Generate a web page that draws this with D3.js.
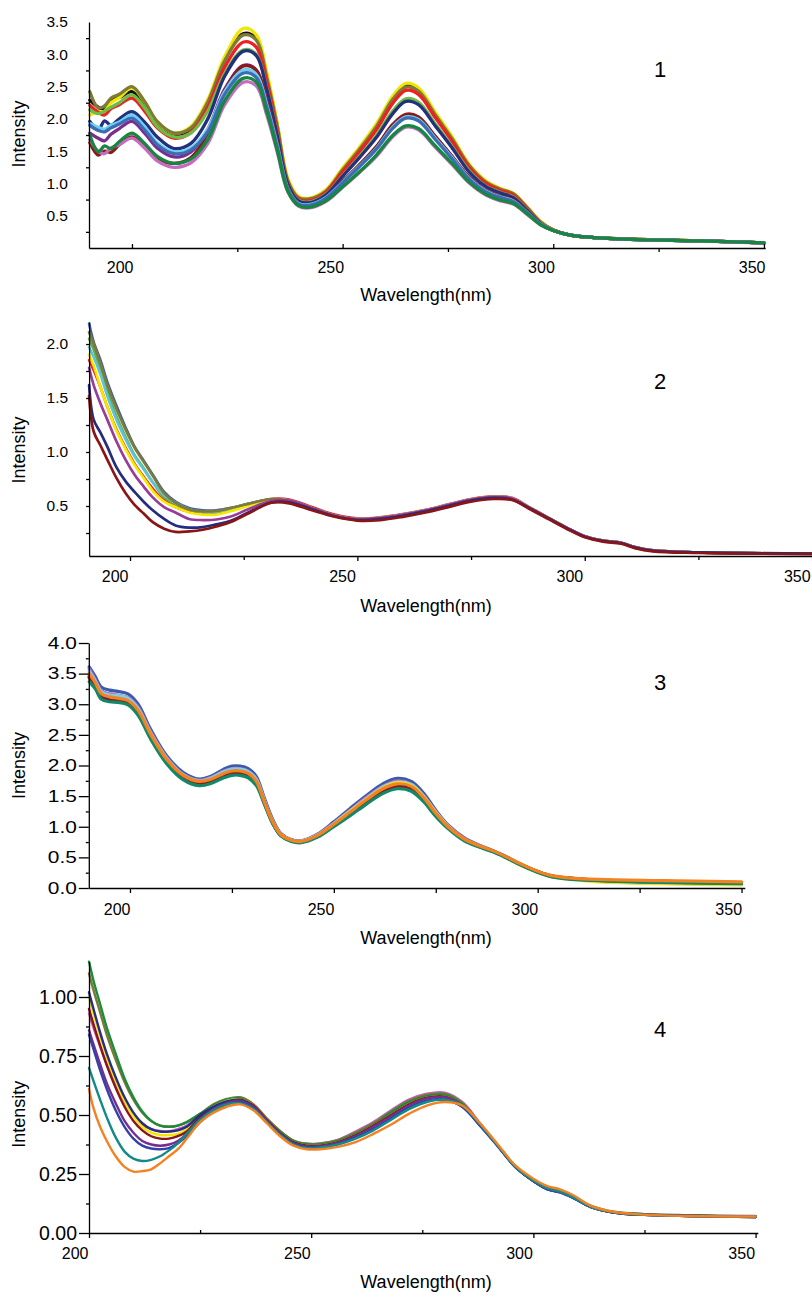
<!DOCTYPE html>
<html>
<head>
<meta charset="utf-8">
<script src="https://cdn.jsdelivr.net/npm/d3@7"></script>
<style>
  body { margin: 0; background: #fff; }
  svg text { font-family: "Liberation Sans", Arial, sans-serif; fill: #000; }
</style>
</head>
<body>
<svg id="chart" width="812" height="1295"></svg>
<script>
// ---------- data ----------
var xMajor = [200, 250, 300, 350];
var xMinor = [225, 275, 325];

// panel 1
var wl1 = [190, 192, 193.5, 195, 197, 200, 203, 206, 210, 214, 218, 222, 226.5, 229.5, 232, 234.5, 237, 239.5, 242, 246, 250, 254, 258, 262, 265, 268, 272, 276, 280, 284, 287.5, 290.5, 294, 297, 300, 304, 310, 320, 335, 350];
var p1Pink = [1.68, 1.50, 1.46, 1.55, 1.60, 1.70, 1.55, 1.35, 1.25, 1.32, 1.62, 2.22, 2.57, 2.51, 2.06, 1.48, 0.87, 0.65, 0.62, 0.72, 0.94, 1.17, 1.42, 1.73, 1.87, 1.83, 1.56, 1.29, 1.01, 0.82, 0.73, 0.68, 0.51, 0.36, 0.27, 0.20, 0.16, 0.13, 0.11, 0.075];
var p1DkGreen = [1.75, 1.49, 1.58, 1.54, 1.65, 1.78, 1.62, 1.42, 1.31, 1.38, 1.68, 2.28, 2.63, 2.57, 2.11, 1.51, 0.88, 0.66, 0.63, 0.73, 0.95, 1.18, 1.44, 1.75, 1.89, 1.85, 1.58, 1.31, 1.02, 0.83, 0.74, 0.69, 0.52, 0.36, 0.27, 0.20, 0.16, 0.13, 0.11, 0.08];
var p1Blue = [1.90, 1.82, 1.80, 1.86, 1.92, 2.01, 1.83, 1.60, 1.46, 1.52, 1.80, 2.38, 2.71, 2.64, 2.18, 1.56, 0.91, 0.68, 0.66, 0.77, 1.01, 1.26, 1.53, 1.86, 2.01, 1.97, 1.68, 1.38, 1.07, 0.87, 0.78, 0.72, 0.54, 0.37, 0.27, 0.20, 0.16, 0.13, 0.11, 0.08];
var p1Cyan = [1.93, 1.87, 1.84, 1.90, 1.95, 2.06, 1.88, 1.63, 1.49, 1.55, 1.84, 2.42, 2.76, 2.69, 2.22, 1.59, 0.92, 0.69, 0.67, 0.78, 1.02, 1.27, 1.54, 1.88, 2.03, 1.99, 1.70, 1.40, 1.08, 0.88, 0.79, 0.73, 0.54, 0.37, 0.27, 0.20, 0.16, 0.13, 0.11, 0.08];
var p1DarkRed = [1.63, 1.44, 1.50, 1.48, 1.60, 1.72, 1.57, 1.38, 1.31, 1.40, 1.78, 2.43, 2.82, 2.75, 2.26, 1.61, 0.93, 0.69, 0.66, 0.77, 1.03, 1.29, 1.57, 1.92, 2.07, 2.03, 1.73, 1.42, 1.10, 0.89, 0.80, 0.74, 0.55, 0.37, 0.27, 0.20, 0.16, 0.13, 0.11, 0.08];
var p1Purple = [1.78, 1.70, 1.66, 1.76, 1.85, 1.96, 1.78, 1.55, 1.41, 1.49, 1.84, 2.46, 2.83, 2.76, 2.27, 1.62, 0.93, 0.69, 0.66, 0.77, 1.03, 1.28, 1.56, 1.90, 2.05, 2.01, 1.72, 1.41, 1.09, 0.88, 0.79, 0.73, 0.54, 0.37, 0.27, 0.20, 0.16, 0.13, 0.11, 0.08];
var p1Navy = [1.96, 1.83, 1.97, 1.90, 2.00, 2.11, 1.95, 1.72, 1.54, 1.62, 2.00, 2.66, 3.05, 2.98, 2.45, 1.74, 0.99, 0.73, 0.70, 0.82, 1.11, 1.40, 1.71, 2.09, 2.27, 2.22, 1.89, 1.55, 1.18, 0.95, 0.85, 0.78, 0.57, 0.38, 0.27, 0.20, 0.16, 0.13, 0.11, 0.08];
var p1Green = [2.14, 2.08, 2.12, 2.18, 2.25, 2.37, 2.17, 1.88, 1.72, 1.78, 2.12, 2.70, 3.07, 3.00, 2.47, 1.76, 1.00, 0.74, 0.71, 0.83, 1.12, 1.42, 1.74, 2.13, 2.31, 2.26, 1.92, 1.57, 1.20, 0.96, 0.86, 0.79, 0.58, 0.39, 0.28, 0.20, 0.16, 0.135, 0.11, 0.08];
var p1Red = [2.21, 2.10, 2.06, 2.16, 2.22, 2.32, 2.12, 1.86, 1.70, 1.79, 2.18, 2.80, 3.19, 3.11, 2.56, 1.82, 1.02, 0.76, 0.73, 0.86, 1.18, 1.49, 1.83, 2.25, 2.44, 2.38, 2.02, 1.65, 1.25, 1.00, 0.89, 0.82, 0.60, 0.40, 0.28, 0.20, 0.16, 0.135, 0.11, 0.08];
var p1Olive = [2.42, 2.17, 2.20, 2.32, 2.38, 2.50, 2.27, 1.96, 1.78, 1.86, 2.26, 2.90, 3.30, 3.22, 2.64, 1.88, 1.04, 0.78, 0.76, 0.88, 1.21, 1.53, 1.88, 2.31, 2.49, 2.43, 2.06, 1.69, 1.28, 1.02, 0.91, 0.84, 0.61, 0.40, 0.28, 0.20, 0.16, 0.135, 0.11, 0.08];
var p1Black = [2.29, 2.18, 2.14, 2.28, 2.33, 2.42, 2.22, 1.93, 1.76, 1.85, 2.26, 2.91, 3.32, 3.24, 2.66, 1.89, 1.04, 0.77, 0.75, 0.88, 1.21, 1.53, 1.88, 2.32, 2.51, 2.45, 2.07, 1.70, 1.28, 1.02, 0.90, 0.83, 0.61, 0.40, 0.28, 0.20, 0.16, 0.135, 0.11, 0.08];
var p1Yellow = [2.06, 2.11, 2.12, 2.25, 2.33, 2.48, 2.26, 1.95, 1.78, 1.88, 2.30, 2.96, 3.40, 3.30, 2.72, 1.92, 1.08, 0.80, 0.77, 0.90, 1.24, 1.56, 1.92, 2.36, 2.55, 2.48, 2.10, 1.72, 1.30, 1.04, 0.92, 0.85, 0.62, 0.41, 0.28, 0.20, 0.16, 0.135, 0.11, 0.08];
var yLabels1 = [0.5, 1.0, 1.5, 2.0, 2.5, 3.0, 3.5];
var yTicks1 = [0.25, 0.75, 1.25, 1.75, 2.25, 2.75, 3.25];

// panel 2
var wl2 = [191, 192, 193.5, 195, 197, 199, 201, 203, 205, 207.5, 210, 213, 216, 219, 222, 226, 231, 235, 240, 245, 250, 255, 260, 265, 270, 275, 280, 284, 288, 292, 296, 300, 304, 308, 311, 315, 325, 350];
var p2Blue = [2.19, 2.02, 1.85, 1.65, 1.43, 1.23, 1.05, 0.92, 0.79, 0.63, 0.54, 0.48, 0.46, 0.46, 0.48, 0.52, 0.56, 0.55, 0.48, 0.41, 0.38, 0.39, 0.42, 0.46, 0.51, 0.56, 0.585, 0.57, 0.48, 0.39, 0.30, 0.22, 0.18, 0.16, 0.12, 0.09, 0.07, 0.06];
var p2Green = [2.05, 1.95, 1.76, 1.56, 1.33, 1.14, 0.97, 0.85, 0.72, 0.58, 0.50, 0.45, 0.44, 0.45, 0.47, 0.52, 0.56, 0.55, 0.48, 0.41, 0.38, 0.39, 0.42, 0.46, 0.51, 0.56, 0.585, 0.57, 0.48, 0.39, 0.30, 0.22, 0.18, 0.16, 0.12, 0.09, 0.07, 0.06];
var p2Red = [1.85, 1.76, 1.60, 1.42, 1.21, 1.04, 0.89, 0.77, 0.66, 0.55, 0.49, 0.445, 0.43, 0.435, 0.46, 0.515, 0.565, 0.56, 0.49, 0.42, 0.385, 0.395, 0.425, 0.465, 0.515, 0.565, 0.59, 0.575, 0.485, 0.39, 0.30, 0.22, 0.18, 0.16, 0.12, 0.09, 0.07, 0.06];
var p2Cyan = [1.97, 1.88, 1.72, 1.52, 1.30, 1.12, 0.96, 0.84, 0.72, 0.60, 0.53, 0.47, 0.445, 0.445, 0.47, 0.52, 0.56, 0.55, 0.48, 0.41, 0.38, 0.39, 0.42, 0.46, 0.51, 0.56, 0.585, 0.57, 0.48, 0.39, 0.30, 0.22, 0.18, 0.16, 0.12, 0.09, 0.07, 0.06];
var p2Yellow = [1.90, 1.80, 1.60, 1.42, 1.20, 1.03, 0.88, 0.76, 0.64, 0.54, 0.49, 0.44, 0.42, 0.42, 0.45, 0.50, 0.555, 0.55, 0.48, 0.41, 0.38, 0.39, 0.42, 0.46, 0.51, 0.56, 0.585, 0.57, 0.48, 0.39, 0.30, 0.22, 0.18, 0.16, 0.12, 0.09, 0.07, 0.06];
var p2Olive = [2.11, 2.00, 1.82, 1.62, 1.40, 1.21, 1.04, 0.91, 0.78, 0.62, 0.53, 0.47, 0.45, 0.455, 0.48, 0.52, 0.565, 0.55, 0.48, 0.41, 0.375, 0.385, 0.415, 0.455, 0.505, 0.555, 0.58, 0.565, 0.48, 0.39, 0.30, 0.22, 0.18, 0.16, 0.12, 0.09, 0.07, 0.06];
var p2Magenta = [1.78, 1.62, 1.45, 1.30, 1.10, 0.93, 0.79, 0.68, 0.58, 0.49, 0.44, 0.38, 0.37, 0.375, 0.40, 0.47, 0.545, 0.55, 0.48, 0.41, 0.38, 0.39, 0.42, 0.46, 0.51, 0.56, 0.585, 0.57, 0.48, 0.39, 0.30, 0.22, 0.18, 0.16, 0.12, 0.09, 0.07, 0.06];
var p2Navy = [1.62, 1.30, 1.18, 1.05, 0.86, 0.73, 0.63, 0.54, 0.46, 0.38, 0.32, 0.30, 0.305, 0.33, 0.36, 0.44, 0.53, 0.535, 0.47, 0.405, 0.37, 0.38, 0.41, 0.45, 0.50, 0.55, 0.575, 0.56, 0.475, 0.385, 0.295, 0.215, 0.175, 0.155, 0.115, 0.085, 0.07, 0.06];
var p2DarkRed = [1.52, 1.19, 1.06, 0.93, 0.76, 0.62, 0.51, 0.43, 0.35, 0.29, 0.26, 0.265, 0.28, 0.31, 0.35, 0.43, 0.53, 0.525, 0.46, 0.40, 0.365, 0.37, 0.40, 0.44, 0.49, 0.54, 0.565, 0.555, 0.47, 0.38, 0.29, 0.21, 0.17, 0.15, 0.11, 0.08, 0.065, 0.055];
var yTicks2 = [0.25, 0.5, 0.75, 1.0, 1.25, 1.5, 1.75, 2.0];

// panel 3
var wl3 = [190, 191.5, 193, 195, 197, 199.5, 202, 205, 209, 213, 217, 220, 223, 225, 227, 229, 231, 233, 235, 237, 239.5, 242, 246, 250, 254, 258, 262, 265.5, 269, 272, 275, 278, 282, 286, 289, 292, 295, 299, 303, 307, 315, 330, 350];
var p3Blue = [3.61, 3.45, 3.28, 3.23, 3.21, 3.17, 3.00, 2.60, 2.16, 1.89, 1.78, 1.83, 1.94, 1.99, 1.99, 1.95, 1.82, 1.46, 1.12, 0.89, 0.79, 0.77, 0.88, 1.08, 1.30, 1.51, 1.70, 1.79, 1.74, 1.55, 1.27, 1.03, 0.82, 0.69, 0.61, 0.52, 0.41, 0.29, 0.20, 0.16, 0.12, 0.10, 0.08];
var p3Pink = [3.58, 3.40, 3.22, 3.17, 3.15, 3.11, 2.95, 2.56, 2.13, 1.86, 1.76, 1.81, 1.91, 1.95, 1.95, 1.91, 1.78, 1.43, 1.10, 0.88, 0.785, 0.765, 0.87, 1.06, 1.27, 1.48, 1.66, 1.75, 1.70, 1.51, 1.25, 1.02, 0.81, 0.685, 0.61, 0.52, 0.415, 0.295, 0.205, 0.165, 0.13, 0.11, 0.09];
var p3Cyan = [3.54, 3.38, 3.20, 3.15, 3.14, 3.10, 2.93, 2.54, 2.12, 1.85, 1.75, 1.80, 1.90, 1.94, 1.94, 1.90, 1.77, 1.42, 1.09, 0.875, 0.78, 0.76, 0.865, 1.05, 1.26, 1.46, 1.65, 1.73, 1.69, 1.50, 1.24, 1.01, 0.80, 0.68, 0.605, 0.515, 0.41, 0.29, 0.20, 0.16, 0.12, 0.09, 0.07];
var p3Yellow = [3.47, 3.33, 3.16, 3.11, 3.09, 3.05, 2.89, 2.51, 2.09, 1.83, 1.73, 1.77, 1.86, 1.90, 1.90, 1.86, 1.73, 1.40, 1.08, 0.87, 0.78, 0.76, 0.86, 1.04, 1.25, 1.45, 1.63, 1.72, 1.67, 1.49, 1.23, 1.00, 0.79, 0.67, 0.60, 0.51, 0.40, 0.28, 0.19, 0.15, 0.10, 0.07, 0.05];
var p3Navy = [3.45, 3.30, 3.13, 3.08, 3.06, 3.02, 2.87, 2.49, 2.08, 1.82, 1.72, 1.76, 1.85, 1.88, 1.88, 1.84, 1.72, 1.39, 1.07, 0.86, 0.77, 0.75, 0.85, 1.03, 1.22, 1.42, 1.59, 1.67, 1.63, 1.46, 1.21, 0.99, 0.79, 0.675, 0.605, 0.515, 0.415, 0.295, 0.205, 0.165, 0.13, 0.11, 0.085];
var p3DarkRed = [3.43, 3.28, 3.11, 3.06, 3.05, 3.01, 2.85, 2.47, 2.06, 1.80, 1.70, 1.74, 1.83, 1.87, 1.87, 1.83, 1.71, 1.38, 1.06, 0.86, 0.77, 0.75, 0.845, 1.02, 1.21, 1.40, 1.57, 1.65, 1.61, 1.44, 1.20, 0.99, 0.785, 0.67, 0.60, 0.51, 0.41, 0.29, 0.20, 0.16, 0.125, 0.10, 0.08];
var p3Teal = [3.37, 3.25, 3.08, 3.04, 3.03, 2.99, 2.82, 2.44, 2.03, 1.77, 1.67, 1.71, 1.80, 1.84, 1.84, 1.80, 1.67, 1.36, 1.05, 0.85, 0.76, 0.74, 0.83, 1.00, 1.18, 1.37, 1.54, 1.62, 1.58, 1.41, 1.17, 0.97, 0.77, 0.66, 0.59, 0.50, 0.40, 0.28, 0.19, 0.15, 0.12, 0.09, 0.07];
var p3Orange = [3.50, 3.35, 3.17, 3.12, 3.10, 3.06, 2.90, 2.52, 2.10, 1.84, 1.74, 1.78, 1.87, 1.91, 1.91, 1.87, 1.74, 1.40, 1.08, 0.87, 0.78, 0.76, 0.86, 1.04, 1.24, 1.44, 1.62, 1.70, 1.66, 1.48, 1.22, 1.00, 0.80, 0.68, 0.61, 0.52, 0.42, 0.30, 0.21, 0.17, 0.14, 0.12, 0.10];
var yLabels3 = [0, 0.5, 1.0, 1.5, 2.0, 2.5, 3.0, 3.5, 4.0];
var yTicks3 = [0.25, 0.75, 1.25, 1.75, 2.25, 2.75, 3.25, 3.75];

// panel 4
var wl4 = [200, 201, 202.5, 204, 206, 208, 210, 212, 214, 216, 218, 220, 222, 225, 228, 231, 234, 237, 240, 243, 246, 249, 252, 256, 260, 264, 268, 272, 276, 280, 284, 288, 292, 296, 300, 303, 306, 309, 313, 318, 325, 335, 350];
var p4Green = [1.15, 1.07, 0.97, 0.87, 0.76, 0.655, 0.575, 0.515, 0.475, 0.455, 0.45, 0.455, 0.47, 0.505, 0.54, 0.565, 0.57, 0.54, 0.48, 0.43, 0.39, 0.375, 0.375, 0.39, 0.42, 0.46, 0.51, 0.555, 0.58, 0.585, 0.545, 0.46, 0.37, 0.28, 0.22, 0.19, 0.18, 0.155, 0.115, 0.09, 0.08, 0.075, 0.07];
var p4Olive = [1.10, 1.03, 0.935, 0.84, 0.735, 0.64, 0.565, 0.51, 0.475, 0.455, 0.45, 0.455, 0.47, 0.505, 0.545, 0.568, 0.575, 0.545, 0.485, 0.432, 0.392, 0.378, 0.378, 0.393, 0.425, 0.465, 0.515, 0.56, 0.585, 0.59, 0.55, 0.462, 0.37, 0.28, 0.22, 0.19, 0.178, 0.152, 0.112, 0.088, 0.078, 0.073, 0.07];
var p4Pink = [0.93, 0.87, 0.79, 0.715, 0.63, 0.555, 0.50, 0.46, 0.44, 0.432, 0.43, 0.44, 0.455, 0.50, 0.54, 0.565, 0.572, 0.545, 0.485, 0.43, 0.39, 0.378, 0.38, 0.395, 0.43, 0.47, 0.52, 0.565, 0.59, 0.595, 0.555, 0.465, 0.37, 0.28, 0.22, 0.188, 0.176, 0.15, 0.11, 0.088, 0.08, 0.075, 0.072];
var p4Yellow = [1.00, 0.93, 0.835, 0.745, 0.645, 0.56, 0.495, 0.45, 0.425, 0.415, 0.415, 0.42, 0.44, 0.495, 0.535, 0.56, 0.565, 0.54, 0.48, 0.425, 0.385, 0.37, 0.37, 0.385, 0.415, 0.455, 0.50, 0.545, 0.573, 0.578, 0.54, 0.458, 0.37, 0.28, 0.22, 0.188, 0.175, 0.15, 0.11, 0.087, 0.077, 0.072, 0.068];
var p4DarkRed = [0.95, 0.885, 0.795, 0.71, 0.615, 0.535, 0.475, 0.435, 0.41, 0.40, 0.40, 0.41, 0.43, 0.49, 0.53, 0.555, 0.565, 0.54, 0.48, 0.425, 0.385, 0.37, 0.37, 0.385, 0.415, 0.455, 0.50, 0.545, 0.573, 0.578, 0.54, 0.458, 0.37, 0.28, 0.22, 0.188, 0.175, 0.15, 0.11, 0.087, 0.077, 0.072, 0.068];
var p4Navy = [1.02, 0.95, 0.85, 0.76, 0.66, 0.575, 0.51, 0.465, 0.44, 0.43, 0.43, 0.435, 0.45, 0.50, 0.535, 0.558, 0.563, 0.535, 0.475, 0.42, 0.38, 0.365, 0.365, 0.378, 0.405, 0.44, 0.485, 0.53, 0.56, 0.565, 0.535, 0.455, 0.368, 0.278, 0.22, 0.186, 0.172, 0.148, 0.11, 0.087, 0.077, 0.072, 0.068];
var p4Purple = [0.86, 0.80, 0.715, 0.635, 0.55, 0.475, 0.425, 0.39, 0.375, 0.37, 0.375, 0.39, 0.42, 0.48, 0.525, 0.55, 0.56, 0.535, 0.475, 0.42, 0.38, 0.367, 0.368, 0.382, 0.41, 0.45, 0.495, 0.54, 0.57, 0.575, 0.54, 0.458, 0.37, 0.28, 0.22, 0.188, 0.174, 0.15, 0.11, 0.088, 0.078, 0.073, 0.07];
var p4Blue = [0.84, 0.78, 0.69, 0.61, 0.52, 0.45, 0.40, 0.37, 0.358, 0.355, 0.36, 0.38, 0.41, 0.47, 0.515, 0.545, 0.555, 0.53, 0.47, 0.42, 0.38, 0.365, 0.365, 0.378, 0.405, 0.44, 0.485, 0.53, 0.56, 0.565, 0.535, 0.455, 0.368, 0.278, 0.22, 0.186, 0.172, 0.148, 0.11, 0.087, 0.077, 0.072, 0.068];
var p4Teal = [0.70, 0.645, 0.565, 0.49, 0.405, 0.345, 0.315, 0.305, 0.31, 0.325, 0.35, 0.38, 0.42, 0.48, 0.52, 0.545, 0.55, 0.525, 0.47, 0.415, 0.375, 0.36, 0.362, 0.375, 0.40, 0.435, 0.48, 0.525, 0.555, 0.565, 0.54, 0.46, 0.37, 0.28, 0.222, 0.19, 0.175, 0.15, 0.11, 0.088, 0.077, 0.072, 0.07];
var p4Orange = [0.61, 0.53, 0.45, 0.39, 0.325, 0.28, 0.26, 0.262, 0.27, 0.295, 0.325, 0.355, 0.40, 0.47, 0.51, 0.535, 0.545, 0.52, 0.465, 0.41, 0.37, 0.355, 0.355, 0.365, 0.385, 0.42, 0.46, 0.505, 0.54, 0.555, 0.54, 0.465, 0.375, 0.285, 0.23, 0.20, 0.185, 0.16, 0.115, 0.09, 0.078, 0.072, 0.07];
var yLabels4 = [0, 0.25, 0.5, 0.75, 1.0];
var yTicks4 = [0.125, 0.375, 0.625, 0.875];

// ---------- drawing ----------
var svg = d3.select("#chart");

function drawPanel(p) {
  var g = svg.append("g");
  var x = d3.scaleLinear().domain(p.xDomain).range(p.xRange);
  var y = d3.scaleLinear().domain(p.yDomain).range(p.yRange);
  var y0 = p.yRange[0];
  var x0 = p.xRange[0];

  var line = d3.line()
    .x(function(d, i) { return x(p.wl[i]); })
    .y(function(d) { return y(d); })
    .curve(d3.curveCatmullRom.alpha(0.5));

  p.series.forEach(function(s) {
    g.append("path")
      .datum(s.values)
      .attr("d", line)
      .attr("fill", "none")
      .attr("stroke", s.color)
      .attr("stroke-width", p.lw)
      .attr("stroke-linejoin", "round")
      .attr("stroke-linecap", "round");
  });

  // x axis
  var xa = g.append("g")
    .attr("transform", "translate(0," + y0 + ")")
    .call(d3.axisBottom(x).tickValues(xMajor).tickSize(p.xMajSize).tickSizeOuter(0)
      .tickPadding(p.xPad).tickFormat(d3.format("d")));
  xa.selectAll("text").attr("text-anchor", "end").attr("x", p.xLabDx).style("font-size", "16px");
  g.append("g")
    .attr("transform", "translate(0," + y0 + ")")
    .call(d3.axisBottom(x).tickValues(xMinor).tickSize(p.xMinSize).tickSizeOuter(0).tickFormat(""))
    .select(".domain").remove();

  // y axis
  var ya = g.append("g")
    .attr("transform", "translate(" + x0 + ",0)")
    .call(d3.axisLeft(y).tickValues(p.yLabels).tickSize(p.yMajSize).tickSizeOuter(0)
      .tickPadding(p.yPad).tickFormat(p.yFormat));
  ya.selectAll("text").style("font-size", p.yFont + "px");
  if (p.yLabW) {
    // the labels of this panel are stretched sideways in the source figure
    ya.selectAll("text").filter(function() { return this.textContent !== ""; })
      .attr("textLength", p.yLabW).attr("lengthAdjust", "spacingAndGlyphs");
  }
  if (p.yTicks) {
    g.append("g")
      .attr("transform", "translate(" + x0 + ",0)")
      .call(d3.axisLeft(y).tickValues(p.yTicks).tickSize(3).tickSizeOuter(0).tickFormat(""))
      .select(".domain").remove();
  }

  g.selectAll(".domain, .tick line").attr("stroke", "#000").attr("stroke-width", 1.3);

  // titles
  g.append("text")
    .attr("x", 426).attr("y", p.titleY)
    .attr("text-anchor", "middle").style("font-size", "18px")
    .text("Wavelength(nm)");
  var yc = (p.yRange[0] + p.yRange[1]) / 2 + p.yLabOff;
  g.append("text")
    .attr("transform", "translate(25," + yc + ") rotate(-90)")
    .attr("text-anchor", "middle").style("font-size", "18px")
    .text("Intensity");
  g.append("text")
    .attr("x", 660).attr("y", p.numY)
    .attr("text-anchor", "middle").style("font-size", "22px")
    .text(p.num);
}

drawPanel({
  wl: wl1, num: "1", numY: 77, titleY: 301, yLabOff: -1,
  xDomain: [189.8, 350.3], xRange: [89, 765.2],
  yDomain: [0, 3.5], yRange: [248, 22],
  xMajSize: -4, xMinSize: 4, xPad: 13.6, xLabDx: 1,
  yLabels: yLabels1, yTicks: yTicks1, yMajSize: 0, yPad: 21, yFont: 15.5,
  yFormat: d3.format(".1f"), lw: 3.3,
  series: [
    { values: p1Black, color: "#111111" },
    { values: p1Yellow, color: "#f2e600" },
    { values: p1Olive, color: "#7f7a36" },
    { values: p1Red, color: "#ed2024" },
    { values: p1Green, color: "#6cbd45" },
    { values: p1Navy, color: "#24307e" },
    { values: p1Purple, color: "#7b2c8e" },
    { values: p1DarkRed, color: "#8b1a1a" },
    { values: p1Cyan, color: "#6dcff0" },
    { values: p1Blue, color: "#3b6cb4" },
    { values: p1Pink, color: "#c66cc0" },
    { values: p1DkGreen, color: "#168741" }
  ]
});

drawPanel({
  wl: wl2, num: "2", numY: 389, titleY: 612, yLabOff: 11,
  xDomain: [191, 350.2], xRange: [89.1, 813],
  yDomain: [0.037, 2.204], yRange: [556, 322],
  xMajSize: 5, xMinSize: 4, xPad: 9.6, xLabDx: -2,
  yLabels: yTicks2, yTicks: null, yMajSize: 3, yPad: 18, yFont: 15.5,
  yFormat: function(d) { return (d * 2) % 1 === 0 ? d3.format(".1f")(d) : ""; }, lw: 2.7,
  series: [
    { values: p2Blue, color: "#3f5fae" },
    { values: p2Green, color: "#5fb050" },
    { values: p2Red, color: "#e0262a" },
    { values: p2Cyan, color: "#5bc5d8" },
    { values: p2Yellow, color: "#f5e900" },
    { values: p2Olive, color: "#7d7b3a" },
    { values: p2Magenta, color: "#983c9c" },
    { values: p2Navy, color: "#242c7f" },
    { values: p2DarkRed, color: "#8b1515" }
  ]
});

drawPanel({
  wl: wl3, num: "3", numY: 690, titleY: 944, yLabOff: 0,
  xDomain: [189.9, 350.8], xRange: [88.8, 744.8],
  yDomain: [0, 4], yRange: [888, 643],
  xMajSize: 5, xMinSize: 5, xPad: 10.6, xLabDx: 0,
  yLabels: yLabels3, yTicks: yTicks3, yMajSize: 10, yPad: 2, yFont: 16.5, yLabW: 29,
  yFormat: d3.format(".1f"), lw: 3.2,
  series: [
    { values: p3Blue, color: "#3a5bab" },
    { values: p3Pink, color: "#b860b8" },
    { values: p3Cyan, color: "#7ccfe6" },
    { values: p3Yellow, color: "#f0e020" },
    { values: p3Navy, color: "#232c7e" },
    { values: p3DarkRed, color: "#8b1a1a" },
    { values: p3Teal, color: "#10886a" },
    { values: p3Orange, color: "#f48221" }
  ]
});

drawPanel({
  wl: wl4, num: "4", numY: 1037, titleY: 1288, yLabOff: 17,
  xDomain: [200, 350.5], xRange: [89, 757.8],
  yDomain: [0, 1.15], yRange: [1233, 961.6],
  xMajSize: 5, xMinSize: -3, xPad: 9.6, xLabDx: -1,
  yLabels: yLabels4, yTicks: yTicks4, yMajSize: 10, yPad: 2, yFont: 19.5,
  yFormat: d3.format(".2f"), lw: 2.4,
  series: [
    { values: p4Pink, color: "#c060c0" },
    { values: p4Olive, color: "#7a7a35" },
    { values: p4Green, color: "#1f8a3c" },
    { values: p4Yellow, color: "#f5e600" },
    { values: p4DarkRed, color: "#8a1717" },
    { values: p4Navy, color: "#262d86" },
    { values: p4Purple, color: "#762d92" },
    { values: p4Blue, color: "#3640a6" },
    { values: p4Teal, color: "#138a8a" },
    { values: p4Orange, color: "#f58220" }
  ]
});
</script>
</body>
</html>
